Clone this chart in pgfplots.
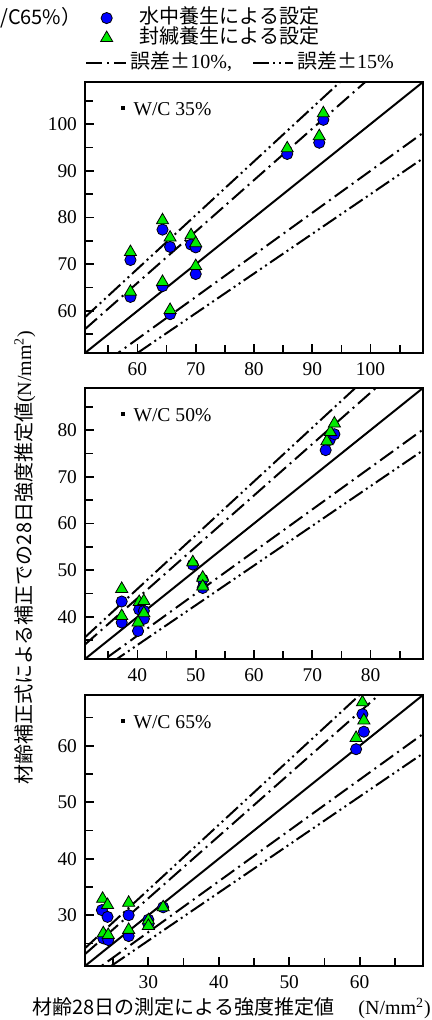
\documentclass[border=0pt]{standalone}
\usepackage{pgfplots}
\pgfplotsset{compat=1.18}
\usepackage{fontspec}
\setmainfont{Liberation Serif}
\newfontfamily\jp{Noto Sans CJK JP}

\definecolor{wblue}{RGB}{0,0,255}
\definecolor{sgreen}{RGB}{0,235,0}

\pgfplotsset{
  panel/.style={
    scale only axis, width=169pt, height=135.5pt,
    axis line style={line width=1pt},
    tick style={line width=0.9pt, black},
    tick align=inside, tick pos=left,
    major tick length=4.5pt, minor tick length=4pt,
    tick label style={font=\rmfamily\fontsize{9.7}{11}\selectfont},
    /pgf/number format/assume math mode=true,
    xticklabel shift=1.5pt, yticklabel shift=0.5pt,
  },
  ref/.style={black, line width=1pt},
  d10/.style={black, line width=1pt, dash pattern=on 8pt off 2.5pt on 1pt off 2.5pt},
  d15/.style={black, line width=1pt, dash pattern=on 8pt off 2pt on 1pt off 2pt on 1pt off 2pt},
  bmark/.style={only marks, mark=*, mark size=2.8pt, mark options={draw=none, fill=wblue}},
  gmark/.style={only marks, mark=triangle*, mark size=3.5pt, mark options={draw=none, fill=sgreen}},
}
\tikzset{wclabel/.style={anchor=base west, font=\fontsize{9.8}{11}\selectfont}}

\newcommand{\sq}{\rule[2.6pt]{1.7pt}{1.7pt}\hspace{4.5pt}}

\begin{document}
\begin{tikzpicture}
\useasboundingbox (0,0) rectangle (216pt,510pt);

% W/C 35%
\begin{axis}[panel,
    at={(42.5pt,333.5pt)}, anchor=south west,
    xmin=51, xmax=109, ymin=51, ymax=109,
    xtick={60,70,80,90,100}, ytick={60,70,80,90,100},
    minor xtick={55,65,...,105}, minor ytick={55,65,...,105},
    legend style={at={(axis description cs:0.045,1.199)}, anchor=west,
        draw=none, fill=none, inner sep=0pt, row sep=0pt,
        font=\jp\fontsize{10}{12}\selectfont,
        nodes={inner sep=0pt, text height=7.8pt, text depth=2.2pt},
        /tikz/every odd column/.append style={column sep=13.5pt}},
    legend cell align=left]
\addplot[ref, forget plot] coordinates {(51,51) (109,109)};
\addplot[d10, forget plot] coordinates {(51,56.1) (109,119.9)};
\addplot[d10, forget plot] coordinates {(51,45.9) (109,98.1)};
\addplot[d15, forget plot] coordinates {(51,58.65) (109,125.35)};
\addplot[d15, forget plot] coordinates {(51,43.35) (109,92.65)};
\addplot[bmark] coordinates {
  (58.8,70.9) (58.8,63.0) (64.3,77.4) (64.3,65.3) (65.6,73.7) (65.6,59.3)
  (69.2,74.2) (70.0,73.6) (70.0,67.9) (85.7,93.6) (91.2,96.0) (91.9,100.9)};
\addlegendentry{水中養生による設定}
\addplot[gmark] coordinates {
  (58.8,72.6) (58.8,64.1) (64.3,79.4) (64.3,66.2) (65.6,75.7) (65.6,60.2)
  (69.2,76.2) (70.0,74.5) (70.0,69.6) (85.7,94.8) (91.2,97.4) (91.9,102.3)};
\addlegendentry{封緘養生による設定}
\node[wclabel] at (rel axis cs:0.086,0.878) {\sq W/C 35\%};
\end{axis}

% W/C 50%
\begin{axis}[panel,
    at={(42.5pt,180.5pt)}, anchor=south west,
    xmin=31, xmax=89, ymin=31, ymax=89,
    xtick={40,50,60,70,80}, ytick={40,50,60,70,80},
    minor xtick={35,45,...,85}, minor ytick={35,45,...,85},
    legend columns=2,
    legend image code/.code={\draw[#1] (0pt,0pt) -- (20pt,0pt);},
    legend style={at={(axis description cs:0,2.199)}, anchor=west,
        draw=none, fill=none, inner sep=0pt,
        font=\jp\fontsize{10}{12}\selectfont,
        nodes={inner sep=0pt, text height=7.8pt, text depth=2.2pt},
        /tikz/every odd column/.append style={column sep=1.5pt},
        /tikz/every even column/.append style={column sep=10pt}},
    legend cell align=left]
\addplot[ref, forget plot] coordinates {(31,31) (89,89)};
\addplot[d10] coordinates {(31,34.1) (89,97.9)};
\addlegendentry{誤差±\rmfamily 10\%,}
\addplot[d10, forget plot] coordinates {(31,27.9) (89,80.1)};
\addplot[d15] coordinates {(31,35.65) (89,102.35)};
\addlegendentry{誤差±\rmfamily 15\%}
\addplot[d15, forget plot] coordinates {(31,26.35) (89,75.65)};
\addplot[bmark, forget plot] coordinates {
  (37.3,43.3) (37.3,38.8) (40.1,37.0) (40.3,41.6) (41.1,41.3) (41.1,39.6)
  (49.5,51.2) (51.2,48.0) (51.2,46.2) (72.3,75.7) (73.0,77.9) (73.8,79.1)};
\addplot[gmark, forget plot] coordinates {
  (37.3,46.0) (37.3,40.2) (40.1,38.8) (40.3,43.2) (41.1,43.4) (41.1,40.8)
  (49.5,51.7) (51.2,48.4) (51.2,46.5) (72.5,77.6) (73.1,79.6) (73.8,81.4)};
\node[wclabel] at (rel axis cs:0.086,0.878) {\sq W/C 50\%};
\end{axis}

% W/C 65%
\begin{axis}[panel,
    at={(42.5pt,27pt)}, anchor=south west,
    xmin=21, xmax=69, ymin=21, ymax=69,
    xtick={30,40,50,60}, ytick={30,40,50,60},
    minor xtick={25,35,...,65}, minor ytick={25,35,...,65}]
\addplot[ref] coordinates {(21,21) (69,69)};
\addplot[d10] coordinates {(21,23.1) (69,75.9)};
\addplot[d10] coordinates {(21,18.9) (69,62.1)};
\addplot[d15] coordinates {(21,24.15) (69,79.35)};
\addplot[d15] coordinates {(21,17.85) (69,58.65)};
\addplot[bmark] coordinates {
  (23.4,30.9) (24.2,29.7) (27.2,30.0) (23.6,25.9) (24.3,25.6) (27.2,26.3)
  (30.0,29.2) (30.0,28.4) (32.1,31.4) (59.5,59.4) (60.4,65.6) (60.6,62.5)};
\addplot[gmark] coordinates {
  (23.5,32.9) (24.2,31.8) (27.2,32.2) (23.6,26.8) (24.3,26.5) (27.2,27.4)
  (30.0,29.1) (30.0,28.1) (32.1,31.4) (59.5,61.4) (60.4,67.7) (60.6,64.5)};
\node[wclabel] at (rel axis cs:0.086,0.878) {\sq W/C 65\%};
\end{axis}

% titles and labels
\node[anchor=base west, inner sep=0pt, font=\jp\fontsize{10}{12}\selectfont] at (0pt,497.5pt) {/C65\%）};
\node[anchor=base east, inner sep=0pt, font=\jp\fontsize{10}{12}\selectfont] at (0pt,497.5pt) {（W};
\node[anchor=base west, inner sep=0pt, font=\jp\fontsize{10}{12}\selectfont] at (16pt,2.75pt) {材齢28日の測定による強度推定値};
\node[anchor=base west, inner sep=0pt, font=\fontsize{10}{12}\selectfont] at (179pt,2.75pt) {(N/mm\textsuperscript{2})};
\node[anchor=base east, rotate=90, inner sep=0pt, font=\jp\fontsize{10}{12}\selectfont] at (15.5pt,345pt) {材齢補正式による補正での28日強度推定値\rmfamily(N/mm\textsuperscript{2})};
\end{tikzpicture}
\end{document}
